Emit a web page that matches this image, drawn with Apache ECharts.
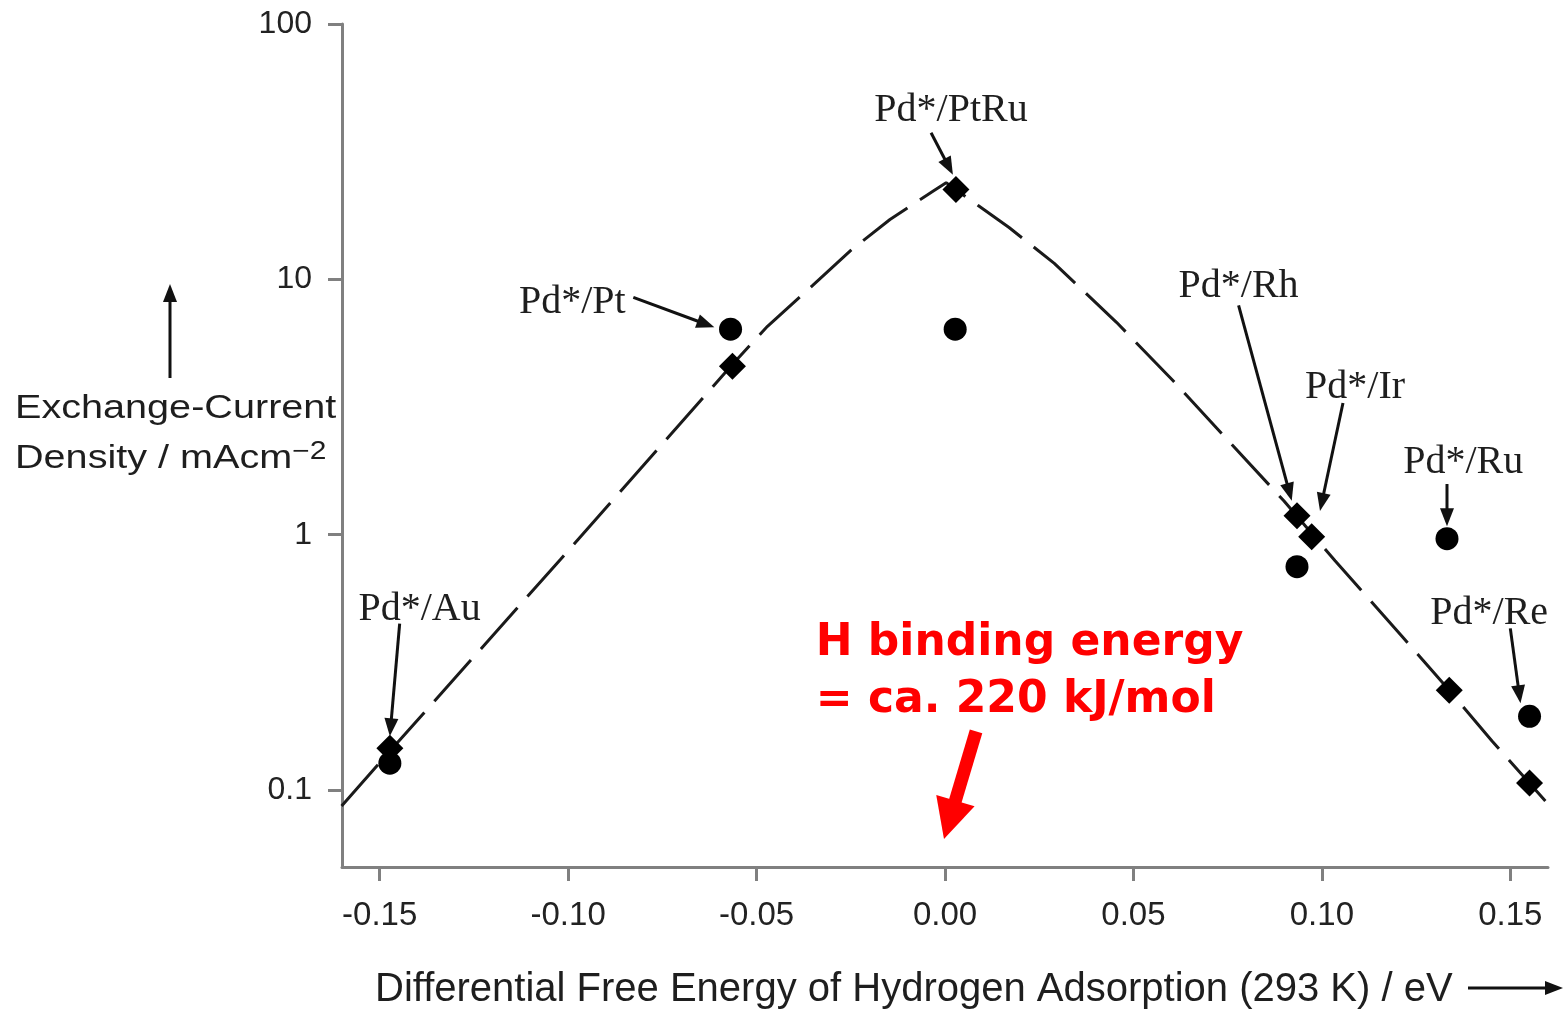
<!DOCTYPE html>
<html>
<head>
<meta charset="utf-8">
<script src="https://cdn.jsdelivr.net/npm/echarts@6/dist/echarts.min.js"></script>
<style>
    html, body { margin: 0; padding: 0; background: #fff; }
    #chart { width: 1565px; height: 1011px; }
</style>
</head>
<body>
<div id="chart"></div>
<script>
    var catalysts = ['Pd*/Au', 'Pd*/Pt', 'Pd*/PtRu', 'Pd*/Rh', 'Pd*/Ir', 'Pd*/Ru', 'Pd*/Re'];
    // diamonds: free energy (eV) / exchange current (mA cm-2)
    var diamondX = [-0.1473, -0.0564, 0.0029, 0.0934, 0.0973, 0.1338, 0.1551];
    var diamondY = [0.146, 4.57, 22.5, 1.186, 0.982, 0.246, 0.1066];
    // circles (Ir has none visible)
    var circleX = [-0.1473, -0.0569, 0.0027, 0.0934, null, 0.1332, 0.1551];
    var circleY = [0.1275, 6.38, 6.38, 0.75, null, 0.965, 0.1945];
    // dashed volcano curve
    var curveX = [-0.1601, -0.1471, -0.1021, -0.0566, -0.0471, -0.0351, -0.0250, -0.0146, -0.0029, 0.0003,
        0.0088, 0.0170, 0.0290, 0.0455, 0.0606, 0.0750, 0.0899, 0.1035, 0.1213, 0.1338, 0.1452, 0.1593];
    var curveY = [0.0866, 0.1432, 0.798, 4.61, 6.55, 9.48, 12.98, 17.16, 22.27, 23.92,
        19.46, 15.96, 11.55, 6.79, 4.00, 2.35, 1.358, 0.791, 0.3996, 0.2459, 0.1553, 0.0906];
    var xTicks = [-0.15, -0.10, -0.05, 0.00, 0.05, 0.10, 0.15];
    var yTicks = [0.1, 1, 10, 100];

    // label centre, arrow start, arrow end (data coords), same order as catalysts
    var notes = [
        [-0.1394, 0.51, -0.1447, 0.449, -0.1473, 0.1625],
        [-0.0989, 8.1, -0.0827, 8.5, -0.0612, 6.49],
        [0.0016, 46.0, -0.0037, 37.5, 0.0021, 25.7],
        [0.0779, 9.4, 0.0779, 7.91, 0.0920, 1.358],
        [0.1088, 3.78, 0.1056, 3.28, 0.0995, 1.24],
        [0.1375, 1.91, 0.1332, 1.58, 0.1332, 1.08],
        [0.1444, 0.49, 0.1500, 0.430, 0.1527, 0.219]
    ];

    function zip(xs, ys) {
        var out = [];
        for (var i = 0; i < xs.length; i++) {
            if (xs[i] != null) out.push([xs[i], ys[i]]);
        }
        return out;
    }

    var myChart = echarts.init(document.getElementById('chart'));

    var option = {
        animation: false,
        backgroundColor: '#fff',
        grid: { left: 342, right: 17, top: 24, bottom: 144 },
        xAxis: {
            type: 'value',
            min: -0.16,
            max: 0.16,
            axisLine: { onZero: false, lineStyle: { color: '#808080', width: 3 } },
            axisTick: { show: true, length: 14, customValues: xTicks, lineStyle: { color: '#808080', width: 3 } },
            axisLabel: {
                customValues: xTicks,
                margin: 32,
                fontFamily: 'Liberation Sans',
                fontSize: 33,
                color: '#222',
                formatter: function (v) { return v.toFixed(2); }
            },
            splitLine: { show: false }
        },
        yAxis: {
            type: 'log',
            logBase: 10,
            min: 0.05,
            max: 100,
            axisLine: { onZero: false, lineStyle: { color: '#808080', width: 3 } },
            axisTick: { show: true, length: 14, customValues: yTicks, lineStyle: { color: '#808080', width: 3 } },
            axisLabel: {
                customValues: yTicks,
                margin: 30,
                fontFamily: 'Liberation Sans',
                fontSize: 32,
                color: '#222',
                formatter: function (v) { return String(+v.toPrecision(3)); }
            },
            splitLine: { show: false }
        },
        series: [
            {
                type: 'line',
                data: zip(curveX, curveY),
                showSymbol: false,
                lineStyle: { color: '#1a1a1a', width: 3, type: [55, 15] },
                z: 2
            },
            {
                type: 'scatter',
                data: zip(circleX, circleY),
                symbol: 'circle',
                symbolSize: 23,
                itemStyle: { color: '#000', opacity: 1 },
                z: 3
            },
            {
                type: 'scatter',
                data: zip(diamondX, diamondY),
                symbol: 'diamond',
                symbolSize: 27,
                itemStyle: { color: '#000', opacity: 1 },
                z: 4
            }
        ]
    };

    myChart.setOption(option);

    function px(x, y) {
        return myChart.convertToPixel({ gridIndex: 0 }, [x, y]);
    }

    function arrow(p0, p1, color, width, headLen, headW) {
        var dx = p1[0] - p0[0], dy = p1[1] - p0[1];
        var len = Math.sqrt(dx * dx + dy * dy);
        var ux = dx / len, uy = dy / len;
        var bx = p1[0] - ux * headLen, by = p1[1] - uy * headLen;
        return [
            { type: 'line', shape: { x1: p0[0], y1: p0[1], x2: bx + ux * 2, y2: by + uy * 2 },
              style: { stroke: color, lineWidth: width }, z: 10 },
            { type: 'polygon', shape: { points: [[p1[0], p1[1]],
                [bx - uy * headW / 2, by + ux * headW / 2], [bx + uy * headW / 2, by - ux * headW / 2]] },
              style: { fill: color }, z: 10 }
        ];
    }

    var graphics = [];
    notes.forEach(function (n, i) {
        var c = px(n[0], n[1]);
        graphics.push({
            type: 'text', x: c[0], y: c[1], z: 10,
            style: { text: catalysts[i], fill: '#1e1e1e', font: '40px "Liberation Serif"',
                textAlign: 'center', textVerticalAlign: 'middle' }
        });
        graphics = graphics.concat(arrow(px(n[2], n[3]), px(n[4], n[5]), '#111', 3, 18, 14));
    });

    // red note
    var rt = px(-0.0343, 0.483);
    graphics.push({
        type: 'text', x: rt[0], y: rt[1], z: 10,
        style: { text: 'H binding energy\n= ca. 220 kJ/mol', fill: '#ff0000',
            font: 'bold 44px "DejaVu Sans"', lineHeight: 57, textAlign: 'left', textVerticalAlign: 'top' }
    });
    graphics = graphics.concat(arrow(px(0.00824, 0.170), px(-0.00027, 0.0644), '#ff0000', 13, 40, 40));

    // axis titles
    graphics.push({
        type: 'text', x: 15, y: 409, scaleX: 1.2, z: 10,
        style: { text: 'Exchange-Current', fill: '#1e1e1e', font: '33px "Liberation Sans"',
            textAlign: 'left', textVerticalAlign: 'middle' }
    });
    graphics.push({
        type: 'text', x: 15, y: 459, scaleX: 1.2, z: 10,
        style: { text: 'Density / mAcm{sup|\u22122}', fill: '#1e1e1e', font: '33px "Liberation Sans"',
            textAlign: 'left', textVerticalAlign: 'middle',
            rich: { sup: { font: '25px "Liberation Sans"', fill: '#1e1e1e', verticalAlign: 'top', padding: [0, 0, 14, 0] } } }
    });
    graphics = graphics.concat(arrow([170, 378], [170, 284], '#111', 3, 18, 14));

    graphics.push({
        type: 'text', x: 375, y: 990, z: 10,
        style: { text: 'Differential Free Energy of Hydrogen Adsorption (293 K) / eV', fill: '#1e1e1e',
            font: '40px "Liberation Sans"', textAlign: 'left', textVerticalAlign: 'middle' }
    });
    graphics = graphics.concat(arrow([1468, 988], [1563, 988], '#111', 3, 18, 14));

    myChart.setOption({ graphic: graphics });
</script>
</body>
</html>
